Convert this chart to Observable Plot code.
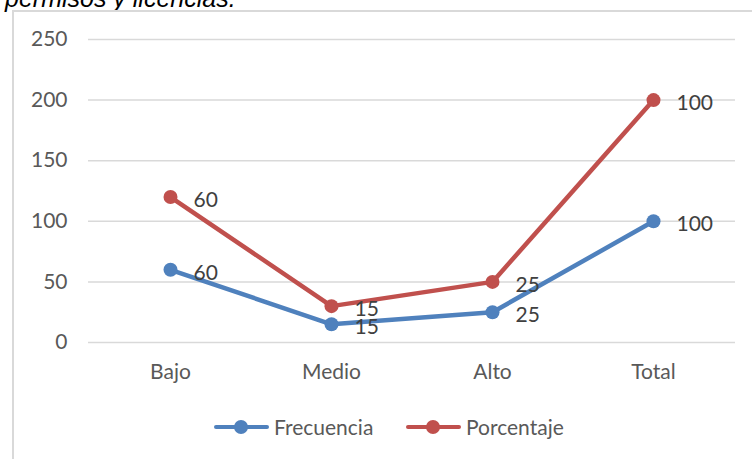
<!DOCTYPE html>
<html><head><meta charset="utf-8">
<script src="https://cdn.jsdelivr.net/npm/d3@7"></script>
<script src="https://cdn.jsdelivr.net/npm/@observablehq/plot@0.6"></script>
<style>
html,body{margin:0;padding:0;background:#fff;overflow:hidden;}
#wrap{position:relative;width:752px;height:459px;}
#title{position:absolute;left:5px;top:-16px;font:italic 25px "Liberation Sans",Arial,sans-serif;color:#000;white-space:nowrap;}
#frame{position:absolute;left:12px;top:10px;width:760px;height:470px;border-left:2px solid #d9d9d9;border-top:2px solid #d9d9d9;box-sizing:border-box;}
#chart{position:absolute;left:0;top:0;}
#legend{position:absolute;left:0;top:414px;width:752px;font:21px Lato,sans-serif;color:#595959;}
.li{position:absolute;display:flex;align-items:center;white-space:nowrap;}
.sw{position:relative;width:55px;height:14px;margin-right:5px;}
.sw .ln{position:absolute;left:0;right:0;top:5px;height:4px;border-radius:2px;}
.sw .dt{position:absolute;left:20px;top:0;width:14px;height:14px;border-radius:50%;}
</style></head>
<body>
<div id="wrap">
  <div id="title">permisos y licencias.</div>
  <div id="frame"></div>
  <div id="chart"></div>
  <div id="legend"></div>
</div>
<script>
const categories = ["Bajo", "Medio", "Alto", "Total"];
const frecuencia = [60, 15, 25, 100];
const porcentaje = [60, 15, 25, 100];
const yTicks = [0, 50, 100, 150, 200, 250];
const seriesNames = ["Frecuencia", "Porcentaje"];
const colors = ["#4f81bd", "#c0504d"];

// stacked line chart (as in the original): Porcentaje sits on top of Frecuencia
const rows = [];
categories.forEach((c, i) => {
  rows.push({cat: c, series: seriesNames[0], value: frecuencia[i], y: frecuencia[i]});
  rows.push({cat: c, series: seriesNames[1], value: porcentaje[i], y: frecuencia[i] + porcentaje[i]});
});

const chart = Plot.plot({
  width: 752,
  height: 459,
  marginLeft: 88,
  marginRight: 17,
  marginTop: 39,
  marginBottom: 117,
  style: {fontFamily: "Lato, sans-serif", fontSize: "21px", color: "#595959", background: "transparent"},
  x: {type: "point", domain: categories, padding: 0.5, label: null},
  y: {domain: [0, 250], label: null},
  color: {domain: seriesNames, range: colors},
  marks: [
    Plot.ruleY(yTicks, {stroke: "#d9d9d9", strokeWidth: 1.5}),
    Plot.axisY(yTicks, {tickSize: 0, tickPadding: 21, fontSize: 21, fill: "#595959", label: null}),
    Plot.axisX({tickSize: 0, tickPadding: 22, fontSize: 21, fill: "#595959", label: null}),
    Plot.line(rows, {x: "cat", y: "y", z: "series", stroke: "series", strokeWidth: 4.5, strokeLinejoin: "round"}),
    Plot.dot(rows, {x: "cat", y: "y", fill: "series", r: 7}),
    Plot.text(rows, {x: "cat", y: "y", text: d => String(d.value), textAnchor: "start", dx: 23, dy: 3, fontSize: 21, fill: "#404040"})
  ]
});
document.getElementById("chart").appendChild(chart);

const legend = document.getElementById("legend");
const legendX = [214, 406];
seriesNames.forEach((name, i) => {
  const el = document.createElement("div");
  el.className = "li";
  el.style.left = legendX[i] + "px";
  el.innerHTML = `<span class="sw"><span class="ln" style="background:${colors[i]}"></span><span class="dt" style="background:${colors[i]}"></span></span><span>${name}</span>`;
  legend.appendChild(el);
});
</script>
</body></html>
